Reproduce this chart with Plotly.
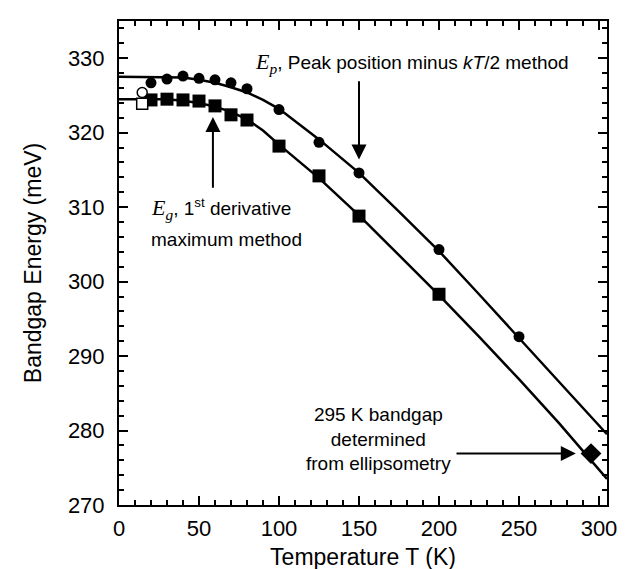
import plotly.graph_objects as go

# ---- data ----
T_ep = [20, 30, 40, 50, 60, 70, 80, 100, 125, 150, 200, 250]
E_ep = [326.7, 327.2, 327.6, 327.3, 327.1, 326.7, 325.9, 323.1, 318.7, 314.6, 304.3, 292.6]

T_eg = [20, 30, 40, 50, 60, 70, 80, 100, 125, 150, 200]
E_eg = [324.4, 324.5, 324.4, 324.25, 323.6, 322.4, 321.7, 318.2, 314.2, 308.8, 298.3]

T_open = [14.5]
E_open_circle = [325.4]
E_open_square = [323.9]

T_ellip = [295]
E_ellip = [276.9]

# fitted curves
T_fit = [0, 20, 30, 40, 50, 60, 70, 80, 90, 100, 125, 150, 175, 200, 225, 250, 275, 305]
E_fit_ep = [327.5, 327.5, 327.5, 327.4, 327.1, 326.7, 326.1, 325.4, 324.4, 323.2, 319.1, 314.6, 309.4, 304.1, 298.3, 292.4, 286.5, 279.5]
E_fit_eg = [324.5, 324.5, 324.5, 324.3, 324.0, 323.5, 322.8, 321.8, 320.3, 318.4, 313.9, 308.9, 303.6, 298.2, 292.6, 286.9, 281.0, 273.5]

x_ticks = [0, 50, 100, 150, 200, 250, 300]
y_ticks = [270, 280, 290, 300, 310, 320, 330]

FONT = "Liberation Sans, Arial, sans-serif"

fig = go.Figure()
fig.add_trace(go.Scatter(x=T_fit, y=E_fit_ep, mode="lines",
                         line=dict(color="black", width=2.5), showlegend=False))
fig.add_trace(go.Scatter(x=T_fit, y=E_fit_eg, mode="lines",
                         line=dict(color="black", width=2.5), showlegend=False))
fig.add_trace(go.Scatter(x=T_ep, y=E_ep, mode="markers",
                         marker=dict(symbol="circle", size=11, color="black"), showlegend=False))
fig.add_trace(go.Scatter(x=T_eg, y=E_eg, mode="markers",
                         marker=dict(symbol="square", size=13, color="black"), showlegend=False))
fig.add_trace(go.Scatter(x=T_open, y=E_open_circle, mode="markers",
                         marker=dict(symbol="circle", size=10, color="white",
                                     line=dict(color="black", width=1.5)), showlegend=False))
fig.add_trace(go.Scatter(x=T_open, y=E_open_square, mode="markers",
                         marker=dict(symbol="square", size=11, color="white",
                                     line=dict(color="black", width=1.5)), showlegend=False))
fig.add_trace(go.Scatter(x=T_ellip, y=E_ellip, mode="markers",
                         marker=dict(symbol="diamond", size=16, color="black"), showlegend=False))

ann_font = dict(family=FONT, size=19, color="black")
arrow_style = dict(xref="x", yref="y", axref="x", ayref="y", showarrow=True,
                   arrowhead=2, arrowsize=1.5, arrowwidth=2, arrowcolor="black", text="")
annotations = [
    dict(x=150, y=316.4, ax=150, ay=327.1, **arrow_style),      # Ep arrow
    dict(x=58.7, y=322.1, ax=58.7, ay=312.4, **arrow_style),    # Eg arrow
    dict(x=285.5, y=276.9, ax=210, ay=276.9, **arrow_style),    # ellipsometry arrow
]
serif = "font-family:'Liberation Serif','Times New Roman',serif;font-size:22px"
texts = [
    dict(x=83.5, y=329.3, xanchor="left", yanchor="middle",
         text=f"<span style=\"{serif}\"><i>E<sub>p</sub></i></span>, Peak position minus <i>kT</i>/2 method"),
    dict(x=19.0, y=309.8, xanchor="left", yanchor="middle",
         text=f"<span style=\"{serif}\"><i>E<sub>g</sub></i></span>, 1<sup>st</sup> derivative"),
    dict(x=19.0, y=305.6, xanchor="left", yanchor="middle", text="maximum method"),
    dict(x=162, y=278.8, xanchor="center", yanchor="middle",
         text="295 K bandgap<br>determined<br>from ellipsometry"),
]
for t in texts:
    t.update(xref="x", yref="y", showarrow=False, font=ann_font)
annotations += texts

axis_common = dict(showline=True, linecolor="black", linewidth=2, mirror="ticks",
                   ticks="inside", ticklen=9, tickwidth=2, tickcolor="black",
                   showgrid=False, zeroline=False,
                   tickfont=dict(family=FONT, size=22, color="black"),
                   title_font=dict(family=FONT, size=23, color="black"))

fig.update_layout(
    width=625, height=569,
    margin=dict(l=111, r=26, t=11, b=69),
    paper_bgcolor="white", plot_bgcolor="white",
    annotations=annotations,
    xaxis=dict(range=[0, 305], tickvals=x_ticks, ticktext=[str(v) for v in x_ticks],
               title=dict(text="Temperature T (K)", standoff=8),
               minor=dict(dtick=10, tick0=0, ticks="inside", ticklen=5, tickwidth=1.5, tickcolor="black"),
               ticklabelstandoff=3,
               **axis_common),
    yaxis=dict(range=[270, 335], tickvals=y_ticks, ticktext=[str(v) for v in y_ticks],
               title=dict(text="Bandgap Energy (meV)", standoff=20),
               minor=dict(dtick=2, tick0=270, ticks="inside", ticklen=5, tickwidth=1.5, tickcolor="black"),
               ticklabelstandoff=8,
               **axis_common),
)

fig.write_html("out.html")
